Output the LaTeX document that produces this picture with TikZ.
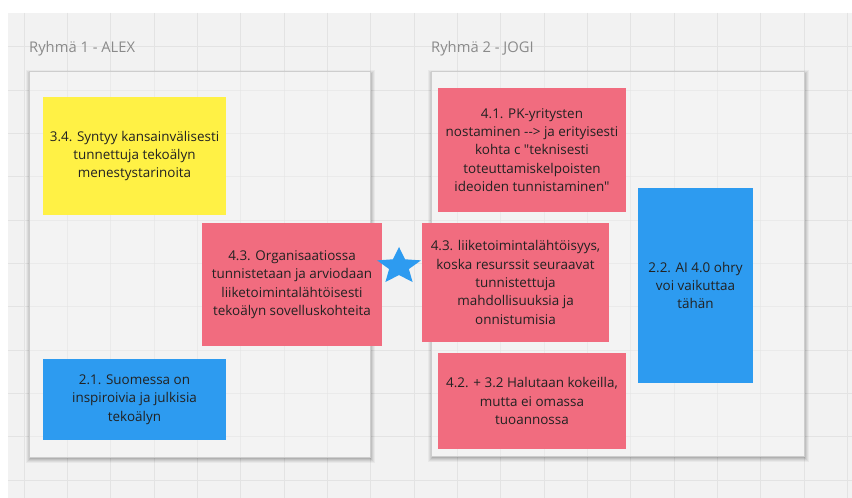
\documentclass[tikz,border=0pt]{standalone}
\usepackage{fontspec}
\newfontfamily\osans{Open Sans}
\definecolor{canvas}{HTML}{F2F2F2}
\definecolor{gridc}{HTML}{E3E3E3}
\definecolor{framec}{HTML}{F3F3F3}
\definecolor{frameb}{HTML}{CDCDCD}
\definecolor{pinkc}{HTML}{F16C7F}
\definecolor{yellowc}{HTML}{FFF145}
\definecolor{bluec}{HTML}{2D9BF0}
\definecolor{txtc}{HTML}{222222}
\definecolor{labc}{HTML}{8A8A8A}
\tikzset{
  note/.style={rectangle, draw=none, inner sep=0pt, align=center, text=txtc,
    font=\osans\fontsize{13.5}{18.5}\selectfont},
  grouplabel/.style={anchor=base west, inner sep=0pt, text=labc,
    font=\osans\fontsize{14.8}{16}\selectfont},
  framebox/.style={fill=framec, draw=frameb, line width=0.8bp},
  gridline/.style={gridc, line width=1bp},
}
\begin{document}
\begin{tikzpicture}[x=1bp,y=-1bp]
\useasboundingbox (0,0) rectangle (852,498);
\fill[white] (0,0) rectangle (852,498);
\fill[canvas] (8,13) rectangle (852,498);
% grid
\foreach \k in {0,...,19} \draw[gridline] ({24.3+43.33*\k},13) -- ({24.3+43.33*\k},498);
\foreach \k in {0,...,10} \draw[gridline] (8,{46.7+43.33*\k}) -- (852,{46.7+43.33*\k});
% frame shadows
\foreach \o/\a in {5/0.04,4/0.05,3/0.06,2/0.07,1/0.08}{
  \fill[black, opacity=\a] (29-\o+2,71-\o+4) rectangle (370+\o,457+\o+1);
  \fill[black, opacity=\a] (431-\o+2,71-\o+4) rectangle (804+\o,456+\o+1);
}
% frames
\draw[framebox] (29,71) rectangle (370,457);
\draw[framebox] (431,71) rectangle (804,456);
\begin{scope}
\clip (29,71) rectangle (370,457) (431,71) rectangle (804,456);
\foreach \k in {0,...,19} \draw[gridline, opacity=0.5] ({24.3+43.33*\k},13) -- ({24.3+43.33*\k},498);
\foreach \k in {0,...,10} \draw[gridline, opacity=0.5] (8,{46.7+43.33*\k}) -- (852,{46.7+43.33*\k});
\end{scope}
\draw[frameb, line width=0.8bp] (29,71) rectangle (370,457);
\draw[frameb, line width=0.8bp] (431,71) rectangle (804,456);
% labels
\node[grouplabel] (lab1) at (29,53) {Ryhmä 1 - ALEX};
\node[grouplabel] (lab2) at (431,53) {Ryhmä 2 - JOGI};
% stickies
\node[note, fill=yellowc, minimum width=183bp, minimum height=118bp] (n34) at (134.5,156)
  {3.4. Syntyy kansainvälisesti\\tunnettuja tekoälyn\\menestystarinoita};
\node[note, fill=pinkc, minimum width=180bp, minimum height=123bp] (n43a) at (292,284.5)
  {4.3. Organisaatiossa\\tunnistetaan ja arviodaan\\liiketoimintalähtöisesti\\tekoälyn sovelluskohteita};
\node[note, fill=bluec, minimum width=183bp, minimum height=81bp] (n21) at (134.5,399.5)
  {2.1. Suomessa on\\inspiroivia ja julkisia\\tekoälyn};
\node[note, fill=pinkc, minimum width=188bp, minimum height=124bp] (n41) at (532,150)
  {4.1. PK-yritysten\\nostaminen --> ja erityisesti\\kohta c "teknisesti\\toteuttamiskelpoisten\\ideoiden tunnistaminen"};
\node[note, fill=bluec, minimum width=115bp, minimum height=195bp] (n22) at (695.5,285.5)
  {2.2. AI 4.0 ohry\\voi vaikuttaa\\tähän};
\node[note, fill=pinkc, minimum width=187bp, minimum height=119bp] (n43b) at (515.5,282.5)
  {4.3. liiketoimintalähtöisyys,\\koska resurssit seuraavat\\tunnistettuja\\mahdollisuuksia ja\\onnistumisia};
\node[note, fill=pinkc, minimum width=188bp, minimum height=96bp] (n42) at (532,401)
  {4.2. + 3.2 Halutaan kokeilla,\\mutta ei omassa\\tuoannossa};
% star
\coordinate (star) at (399,266.35);
\begin{scope}[shift={(star)}, x=23.1bp, y=-19.35bp]
\fill[bluec] (-90:1) -- (-54:0.45) -- (-18:1) -- (18:0.45) -- (54:1) -- (90:0.45)
  -- (126:1) -- (162:0.45) -- (198:1) -- (234:0.45) -- cycle;
\end{scope}
\end{tikzpicture}
\end{document}
